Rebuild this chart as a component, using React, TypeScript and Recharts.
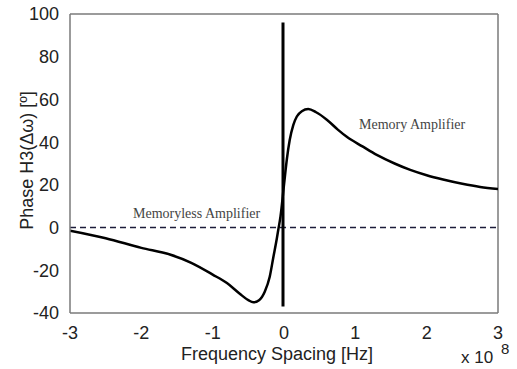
import React from "react";
import { LineChart, Line, XAxis, YAxis, ReferenceLine, Label } from "recharts";

const xTicks = [-3, -2, -1, 0, 1, 2, 3];
const yTicks = [-40, -20, 0, 20, 40, 60, 80, 100];

const freqX = [-3, -2.5, -2, -1.6, -1.3, -1.0, -0.8, -0.62, -0.5, -0.43, -0.35, -0.27, -0.2, -0.15, -0.1, -0.08, -0.05, 0, 0.04, 0.08, 0.13, 0.18, 0.25, 0.34, 0.45, 0.6, 0.75, 0.88, 1.1, 1.3, 1.55, 1.77, 2.0, 2.23, 2.5, 2.75, 3];
const phaseY = [-1.5, -5, -9.5, -12.6, -16.5, -22, -26, -31, -34, -35, -34, -30, -23, -14, -5, -1, 5, 20, 32, 41, 48, 52, 54.5, 55.5, 54, 50.5, 46, 42.5, 38, 34, 30, 27, 24.5, 22.5, 20.5, 19, 18];

const spikeX = [-0.014, -0.014];
const spikeY = [96, -37];

const curveData = freqX.map((x, i) => ({ x, y: phaseY[i] }));
const spikeData = spikeX.map((x, i) => ({ x, y: spikeY[i] }));

const sans = "Liberation Sans, Arial, sans-serif";
const serif = "Liberation Serif, Times New Roman, serif";
const tickStyle = { fontFamily: sans, fontSize: 18, fill: "#222" };
const frame = "#7a7a7a";

export default function App() {
  return (
    <div style={{ position: "absolute", left: 0, top: 0, width: 517, height: 369, background: "#fff" }}>
      <LineChart width={517} height={369} margin={{ top: 14, right: 19, bottom: 16, left: 0 }}>
        <XAxis
          dataKey="x"
          type="number"
          domain={[-3, 3]}
          ticks={xTicks}
          allowDataOverflow
          height={40}
          tickLine={false}
          axisLine={{ stroke: frame, strokeWidth: 1.5 }}
          tick={tickStyle}
          tickMargin={7}
        >
          <Label
            value="Frequency Spacing [Hz]"
            position="insideBottom"
            offset={-7}
            dx={-7}
            style={{ fontFamily: sans, fontSize: 18, fill: "#222" }}
          />
        </XAxis>
        <YAxis
          type="number"
          domain={[-40, 100]}
          ticks={yTicks}
          allowDataOverflow
          width={70}
          tickLine={false}
          axisLine={{ stroke: frame, strokeWidth: 1.5 }}
          tick={tickStyle}
          tickMargin={5}
        >
          <Label
            value="Phase H3(Δω) [º]"
            angle={-90}
            position="insideLeft"
            offset={27}
            dy={-3}
            style={{ fontFamily: sans, fontSize: 18, fill: "#222", textAnchor: "middle" }}
          />
        </YAxis>
        <ReferenceLine y={100} stroke={frame} strokeWidth={1.5} />
        <ReferenceLine x={3} stroke={frame} strokeWidth={1.5} />
        <ReferenceLine y={0} stroke="#1c1c3a" strokeWidth={1.5} strokeDasharray="6 4" />
        <Line data={curveData} dataKey="y" type="monotone" stroke="#000" strokeWidth={2.5} dot={false} isAnimationActive={false} />
        <Line data={spikeData} dataKey="y" type="linear" stroke="#000" strokeWidth={3} dot={false} isAnimationActive={false} />
      </LineChart>
      <div style={{ position: "absolute", left: 461, top: 349, fontFamily: sans, fontSize: 17, color: "#222", whiteSpace: "nowrap", lineHeight: "18px" }}>
        x 10
      </div>
      <div style={{ position: "absolute", left: 501, top: 342, fontFamily: sans, fontSize: 15, color: "#222", lineHeight: "14px" }}>
        8
      </div>
      <div style={{ position: "absolute", left: 133, top: 205, fontFamily: serif, fontSize: 14, color: "#444", whiteSpace: "nowrap", lineHeight: "17px" }}>
        Memoryless Amplifier
      </div>
      <div style={{ position: "absolute", left: 359, top: 116, fontFamily: serif, fontSize: 14, color: "#444", whiteSpace: "nowrap", lineHeight: "17px" }}>
        Memory Amplifier
      </div>
    </div>
  );
}
